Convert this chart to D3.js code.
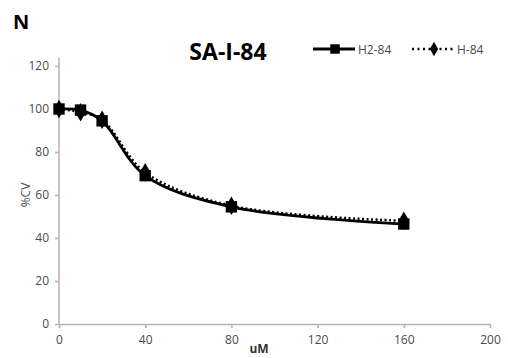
<!DOCTYPE html>
<html>
<head>
<meta charset="utf-8">
<script src="https://cdn.jsdelivr.net/npm/d3@7"></script>
<style>
  body { margin: 0; background: #fff; }
  text { font-family: "Open Sans", "Liberation Sans", Arial, sans-serif; }
</style>
</head>
<body>
<div id="chart"></div>
<script>
// data
const conc = [0, 10, 20, 40, 80, 160]
const h2_84 = [100, 99.5, 94.5, 69, 54.5, 46.5]
const h_84 = [100, 98.5, 95, 70.5, 55, 48]
const errH2 = [2, 2, 1.5, 2, 1.5, 1.5]
const errH = [2, 2.5, 1.5, 2, 1.5, 1.5]
const xTicks = [0, 40, 80, 120, 160, 200]
const yTicks = [0, 20, 40, 60, 80, 100, 120]

const W = 508, H = 358
const margin = { top: 66, right: 18, bottom: 34, left: 59 }
const width = W - margin.left - margin.right
const height = H - margin.top - margin.bottom

const svg = d3.select("#chart").append("svg")
    .attr("width", W).attr("height", H)

const g = svg.append("g")
    .attr("transform", "translate(" + margin.left + "," + margin.top + ")")

const x = d3.scaleLinear().domain([0, 200]).range([0, width])
const y = d3.scaleLinear().domain([0, 120]).range([height, 0])

// axes
const axisCol = "#b3b3b3"
const labCol = "#4a4a4a"
const xAxis = g.append("g").attr("transform", "translate(0," + height + ")")
    .call(d3.axisBottom(x).tickValues(xTicks).tickSize(4).tickPadding(7).tickSizeOuter(0))
const yAxis = g.append("g")
    .call(d3.axisLeft(y).tickValues(yTicks).tickSize(4).tickPadding(6).tickSizeOuter(0))
;[xAxis, yAxis].forEach(a => {
    a.select(".domain").attr("stroke", axisCol).attr("stroke-width", 1.5)
    a.selectAll(".tick line").attr("stroke", axisCol).attr("stroke-width", 1.5)
    a.selectAll(".tick text").attr("fill", labCol).style("font-size", "12px")
})
yAxis.select(".domain").attr("d", "M0," + y(0) + "V" + y(124))

// series
const line = d3.line().x((d, i) => x(conc[i])).y(d => y(d)).curve(d3.curveCatmullRom.alpha(0.5))

function series(vals, errs, dash, sw, shape, size) {
    const s = g.append("g")
    s.selectAll("line.err").data(vals).enter().append("line")
        .attr("x1", (d, i) => x(conc[i])).attr("x2", (d, i) => x(conc[i]))
        .attr("y1", (d, i) => y(d - errs[i])).attr("y2", (d, i) => y(d + errs[i]))
        .attr("stroke", "#000").attr("stroke-width", 1.5)
    s.append("path").attr("d", line(vals))
        .attr("fill", "none").attr("stroke", "#000")
        .attr("stroke-width", sw).attr("stroke-dasharray", dash)
    s.selectAll("path.pt").data(vals).enter().append("path")
        .attr("transform", (d, i) => "translate(" + x(conc[i]) + "," + y(d) + ")")
        .attr("d", d3.symbol().type(shape).size(size))
        .attr("fill", "#000")
}
series(h_84, errH, "2,2.5", 2.5, d3.symbolDiamond, 100)
series(h2_84, errH2, null, 2.8, d3.symbolSquare, 130)

// titles
svg.append("text").attr("x", 13).attr("y", 29)
    .style("font-size", "20px").style("font-weight", "bold").text("N")
svg.append("text").attr("x", 228).attr("y", 60).attr("text-anchor", "middle")
    .style("font-size", "23px").style("font-weight", "bold").text("SA-I-84")
svg.append("text").attr("transform", "translate(30," + (margin.top + y(60)) + ") rotate(-90)")
    .attr("text-anchor", "middle")
    .style("font-size", "12px").attr("fill", labCol).text("%CV")
svg.append("text").attr("x", 259).attr("y", 353).attr("text-anchor", "middle")
    .style("font-size", "12px").style("font-weight", "bold").attr("fill", "#333").text("uM")

// legend
const legend = [
    { name: "H2-84", dash: null, sw: 3, shape: d3.symbolSquare, size: 90, x: 313 },
    { name: "H-84", dash: "2,3.5", sw: 2.5, shape: d3.symbolDiamond, size: 60, x: 412 }
]
const lg = svg.append("g").attr("transform", "translate(0,49)")
legend.forEach(d => {
    const e = lg.append("g").attr("transform", "translate(" + d.x + ",0)")
    e.append("line").attr("x1", 0).attr("x2", 42).attr("stroke", "#000")
        .attr("stroke-width", d.sw).attr("stroke-dasharray", d.dash)
    e.append("path").attr("transform", "translate(22,0)")
        .attr("d", d3.symbol().type(d.shape).size(d.size)).attr("fill", "#000")
    e.append("text").attr("x", 45).attr("y", 4.5).style("font-size", "12px")
        .attr("fill", labCol).text(d.name)
})
</script>
</body>
</html>
